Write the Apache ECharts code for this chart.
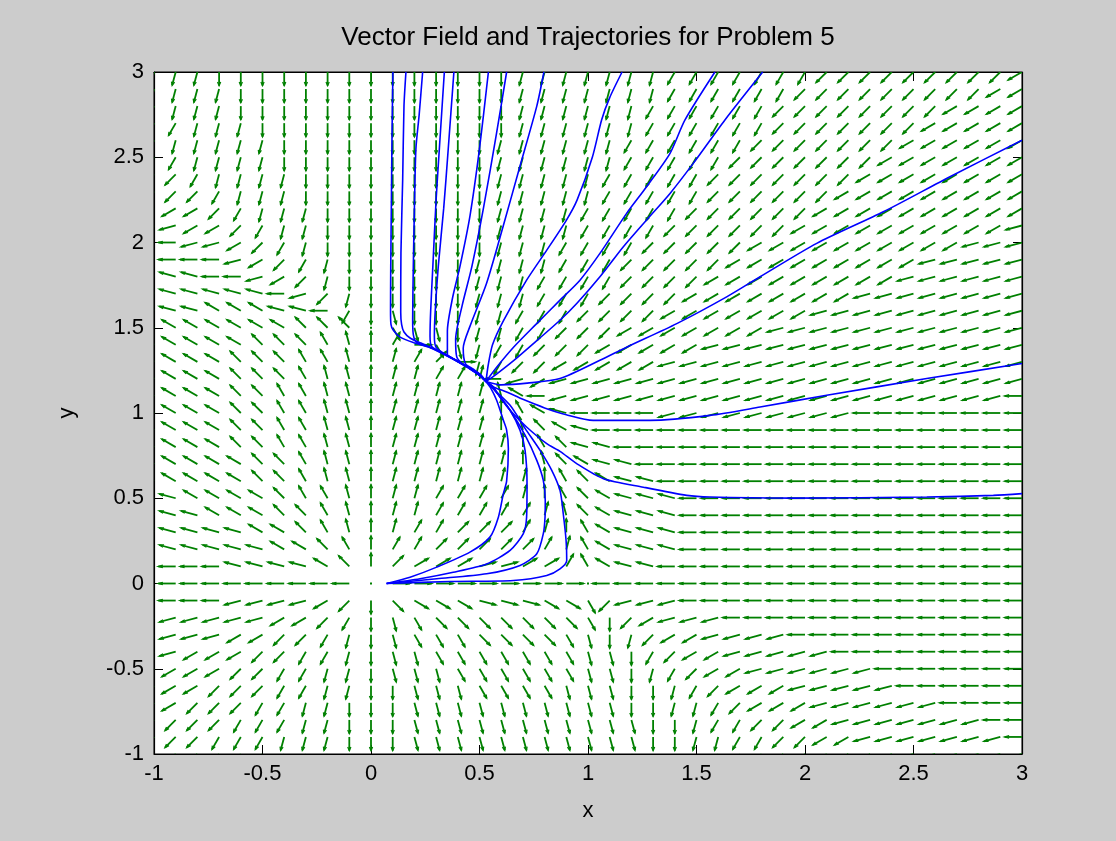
<!DOCTYPE html>
<html>
<head>
<meta charset="utf-8">
<script src="https://cdn.jsdelivr.net/npm/echarts@6/dist/echarts.min.js"></script>
<style>
html,body{margin:0;padding:0;background:#cccccc;}
#chart{width:1116px;height:841px;}
</style>
</head>
<body>
<div id="chart"></div>
<script>
// ---------------- data ----------------
const chartTitle = 'Vector Field and Trajectories for Problem 5';
const xTickValues = [-1, -0.5, 0, 0.5, 1, 1.5, 2, 2.5, 3];
const yTickValues = [-1, -0.5, 0, 0.5, 1, 1.5, 2, 2.5, 3];

// direction-field grid (tail positions of the arrows)
const fieldX = [-1.0,-0.9,-0.8,-0.7,-0.6,-0.5,-0.4,-0.3,-0.2,-0.1,0,0.1,0.2,0.3,0.4,0.5,0.6,0.7,0.8,0.9,1.0,
                1.1,1.2,1.3,1.4,1.5,1.6,1.7,1.8,1.9,2.0,2.1,2.2,2.3,2.4,2.5,2.6,2.7,2.8,2.9,3.0];
const fieldY = [3.0,2.9,2.8,2.7,2.6,2.5,2.4,2.3,2.2,2.1,2.0,1.9,1.8,1.7,1.6,1.5,1.4,1.3,1.2,1.1,1.0,
                0.9,0.8,0.7,0.6,0.5,0.4,0.3,0.2,0.1,0,-0.1,-0.2,-0.3,-0.4,-0.5,-0.6,-0.7,-0.8,-0.9,-1.0];
// arrow direction per grid cell, one run-length string per row (top row first).
// letter A..X = on-screen direction in 15 degree steps (A = right, G = up, M = left, S = down), '.' = zero vector
const fieldRowsRLE = [
 "R3S14R7Q7P9O1",
 "R4S13R7Q6P9O2",
 "Q1R3S13R6Q6P8O4",
 "Q2R3S12R6Q6P7O5",
 "Q1R5S10R6Q6P7O6",
 "P1Q1R4S10R6Q5P7O7",
 "O1P1Q1R4S9R5Q5P7O8",
 "O1P2Q1R3S9R5Q5P6O9",
 "N1O2P1Q1R3S8R4Q5P6O10",
 "N2O2P1Q1R2S8R4Q4P6O10N1",
 "M2N2O1P1Q1R1S8R3Q4P5O10N3",
 "M4N1O1P1Q1R1S6R4Q3P5O9N5",
 "L3M2N1O1P1R1S6R3Q4P4O9N6",
 "L6M1N1P1R1S5R3Q3P4O8N8",
 "L3K3L2M1Q1S1T1S3R2Q3P4O7N10",
 "K7J3.1U1T2S1R2Q2P3O7N12",
 "K5J3I1H1G1E1A1U1T1R1Q2P3O5N15",
 "K4J3I2H1G1F1E1D1A1R1Q1P2O5N17",
 "K4J3I1H2G1F2E2F1M1N1O1N22",
 "K4J2I2H2G1F5H1K1M1N21M1",
 "K4J2I2H2G1F5G1I1K1L1M4N9M8",
 "K4J2I2H2G1F5G1H1J1K1L1M20",
 "K4J2I2H2G1F6G1I1J1L2M19",
 "K5J2I1H2G1F6G1H1J1K1L2M18",
 "L1K4J2I1H2G1F7G1I1J1K1L2M17",
 "L2K4J1I2H1G1F2E4F1G1I1J1K1L3M16",
 "L3K3J2I1H1G1F2E5F1H1J1K1L3M16",
 "L5K2J1I1H1G1F1E2D3E1F1G1I1K1L3M16",
 "L6K2J1I1G1E2D5E1F1I1K1L3M16",
 "M4L4K1J1G1D1C3B2C2E1I1K1L2M17",
 "M10.1A9.1M20",
 "M4N4O1P1S1V1W3X3W2U1P1N3M16",
 "N6O2P1Q1S1T1U1V7U1S1P1O1N3M14",
 "N4O2P2Q1R1S1T1U3V4U1T1S1R1P1O2N4M11",
 "N2O3P2Q2R1S1T2U7T2S1Q1P1O2N5M9",
 "O4P2Q2R2S1T3U6T2S1R1Q1P1O2N6M7",
 "O3P3Q2R2S2T3U4T3S2R1Q1P1O3N5M6",
 "O2P3Q2R2S3T10S2R2Q1P1O3N6M4",
 "O1P3Q3R2S3T11S2R1Q2P2O2N7M2",
 "P3Q3R3S3T11S2R2Q2P2O2N7M1",
 "P3Q3R3S4T10S3R2Q1P3O3N6"
];

// trajectories [x, y]
const trajB1 = [[0.101,3.0],[0.097,2.65],[0.094,2.25],[0.091,1.86],[0.090,1.60],[0.092,1.52],[0.103,1.485],[0.134,1.445],[0.195,1.413],[0.272,1.383],[0.349,1.336],[0.400,1.300],[0.456,1.258],[0.500,1.220],[0.530,1.185]];
const trajB2 = [[0.161,3.0],[0.152,2.80],[0.146,2.37],[0.138,1.94],[0.137,1.59],[0.141,1.52],[0.152,1.475],[0.180,1.440],[0.230,1.410],[0.280,1.382],[0.349,1.337],[0.400,1.301],[0.456,1.259],[0.500,1.221],[0.530,1.185]];
const trajB3 = [[0.238,3.0],[0.222,2.75],[0.207,2.55],[0.200,2.20],[0.195,1.86],[0.192,1.55],[0.195,1.46],[0.210,1.415],[0.272,1.385],[0.349,1.338],[0.400,1.302],[0.456,1.260],[0.500,1.222],[0.530,1.185]];
const trajB4 = [[0.338,3.0],[0.315,2.55],[0.300,2.25],[0.285,1.86],[0.275,1.60],[0.272,1.45],[0.280,1.390],[0.349,1.339],[0.400,1.303],[0.456,1.261],[0.500,1.223],[0.530,1.185]];
const trajB5 = [[0.382,3.0],[0.356,2.55],[0.335,2.20],[0.310,1.86],[0.296,1.60],[0.292,1.45],[0.300,1.385],[0.349,1.340],[0.400,1.304],[0.456,1.262],[0.500,1.224],[0.530,1.185]];
const trajB6 = [[0.541,3.0],[0.500,2.55],[0.456,2.155],[0.410,1.86],[0.375,1.67],[0.352,1.48],[0.352,1.345],[0.400,1.305],[0.456,1.263],[0.500,1.225],[0.530,1.185]];
const trajB7 = [[0.625,3.0],[0.579,2.644],[0.518,2.20],[0.465,1.86],[0.420,1.63],[0.390,1.43],[0.395,1.33],[0.420,1.29],[0.456,1.264],[0.500,1.226],[0.530,1.185]];
const trajB8 = [[0.797,3.0],[0.764,2.80],[0.687,2.45],[0.610,2.10],[0.533,1.763],[0.456,1.508],[0.425,1.38],[0.435,1.29],[0.470,1.258],[0.505,1.225],[0.530,1.185]];
const trajC1 = [[1.157,3.0],[1.100,2.85],[1.063,2.72],[1.020,2.50],[0.950,2.25],[0.900,2.13],[0.810,1.955],[0.717,1.779],[0.610,1.54],[0.560,1.40],[0.540,1.28],[0.530,1.185]];
const trajC2 = [[1.585,3.0],[1.447,2.719],[1.378,2.523],[1.270,2.327],[1.178,2.171],[1.055,1.936],[0.963,1.779],[0.871,1.662],[0.760,1.52],[0.660,1.39],[0.580,1.27],[0.530,1.185]];
const trajC3 = [[1.805,3.0],[1.631,2.719],[1.485,2.464],[1.378,2.288],[1.270,2.132],[1.163,1.975],[1.055,1.799],[0.948,1.642],[0.871,1.544],[0.760,1.42],[0.660,1.31],[0.580,1.23],[0.530,1.185]];
const trajD1 = [[3.0,2.60],[2.668,2.386],[2.361,2.180],[2.054,1.995],[1.793,1.799],[1.639,1.681],[1.409,1.524],[1.178,1.386],[1.055,1.309],[0.871,1.202],[0.720,1.175],[0.600,1.165],[0.530,1.185]];
const trajD2 = [[3.0,1.290],[2.561,1.202],[2.100,1.104],[1.793,1.035],[1.562,0.986],[1.286,0.957],[1.024,0.957],[0.900,0.990],[0.800,1.030],[0.700,1.080],[0.625,1.123],[0.564,1.153],[0.530,1.185]];
const trajD3 = [[3.0,0.527],[2.868,0.517],[2.561,0.507],[1.946,0.501],[1.562,0.507],[1.455,0.517],[1.255,0.565],[1.071,0.615],[0.948,0.703],[0.871,0.775],[0.810,0.820],[0.717,0.918],[0.641,1.016],[0.594,1.094],[0.564,1.153],[0.530,1.185]];
const trajE1 = [[0.072,0.0],[0.180,0.037],[0.303,0.096],[0.456,0.184],[0.548,0.272],[0.587,0.389],[0.610,0.527],[0.625,0.600],[0.633,0.790],[0.625,0.900],[0.610,0.957],[0.579,1.075],[0.550,1.150],[0.530,1.185]];
const trajE2 = [[0.072,0.0],[0.226,0.028],[0.379,0.066],[0.533,0.115],[0.641,0.194],[0.702,0.292],[0.717,0.389],[0.719,0.585],[0.710,0.781],[0.687,0.898],[0.641,1.016],[0.594,1.094],[0.560,1.150],[0.530,1.185]];
const trajE3 = [[0.072,0.0],[0.303,0.028],[0.533,0.057],[0.687,0.106],[0.764,0.174],[0.794,0.292],[0.802,0.389],[0.803,0.487],[0.794,0.605],[0.764,0.722],[0.710,0.870],[0.641,1.016],[0.571,1.133],[0.530,1.185]];
const trajE4 = [[0.072,0.0],[0.364,0.012],[0.656,0.018],[0.810,0.047],[0.871,0.086],[0.902,0.135],[0.899,0.252],[0.886,0.409],[0.871,0.546],[0.833,0.664],[0.779,0.781],[0.710,0.910],[0.641,1.045],[0.571,1.133],[0.530,1.185]];

const trajectories = [trajB1,trajB2,trajB3,trajB4,trajB5,trajB6,trajB7,trajB8,trajC1,trajC2,trajC3,trajD1,trajD2,trajD3,trajE1,trajE2,trajE3,trajE4];

// ---------------- build the chart ----------------
const arrowData = [];
fieldRowsRLE.forEach(function (row, r) {
  const codes = [];
  row.replace(/([A-X.])(\d+)/g, function (m, c, n) {
    for (let i = 0; i < +n; i++) codes.push(c);
    return m;
  });
  codes.forEach(function (c, i) {
    if (i < fieldX.length) arrowData.push([fieldX[i], fieldY[r], c === '.' ? -1 : c.charCodeAt(0) - 65]);
  });
});

const ARROW_LEN = 0.08, HEAD_A = 0.26, HEAD_B = 0.35, GREEN = '#008000';
const FONT = 'Liberation Sans, Arial, sans-serif';

function renderArrow(params, api) {
  const x = api.value(0), y = api.value(1), k = api.value(2);
  const p0 = api.coord([x, y]);
  if (k < 0) {
    return {type: 'rect', shape: {x: p0[0] - 1, y: p0[1] - 1, width: 2, height: 2}, style: {fill: GREEN}};
  }
  const s = api.size([1, 1]);
  const th = k * 15 * Math.PI / 180;
  let ux = Math.cos(th) / s[0], uy = Math.sin(th) / s[1];
  const n = Math.hypot(ux, uy); ux /= n; uy /= n;
  const u = ARROW_LEN * ux, v = ARROW_LEN * uy;
  const tip = api.coord([x + u, y + v]);
  const h1 = api.coord([x + u - HEAD_A * (u + HEAD_B * v), y + v - HEAD_A * (v - HEAD_B * u)]);
  const h2 = api.coord([x + u - HEAD_A * (u - HEAD_B * v), y + v - HEAD_A * (v + HEAD_B * u)]);
  const st = {stroke: GREEN, lineWidth: 1.8, fill: null};
  return {type: 'group', children: [
    {type: 'line', shape: {x1: p0[0], y1: p0[1], x2: tip[0], y2: tip[1]}, style: st},
    {type: 'polyline', shape: {points: [h1, tip, h2]}, style: {stroke: GREEN, lineWidth: 1.3, fill: null}}
  ]};
}

const axisCommon = {
  type: 'value', min: -1, max: 3, interval: 0.5,
  axisLine: {show: true, onZero: false, lineStyle: {color: '#000', width: 1.2}},
  splitLine: {show: false}
};

const series = [{
  type: 'custom', coordinateSystem: 'cartesian2d', clip: true, silent: true,
  renderItem: renderArrow, data: arrowData, z: 2
}];
trajectories.forEach(function (t) {
  series.push({
    type: 'line', data: t, showSymbol: false, smooth: 0.25, clip: true, silent: true,
    lineStyle: {color: '#0000ff', width: 1.6}, z: 3
  });
});

const chart = echarts.init(document.getElementById('chart'), null, {renderer: 'canvas'});
chart.setOption({
  animation: false,
  backgroundColor: '#cccccc',
  grid: {left: 154, right: 94, top: 72, bottom: 87, show: true, backgroundColor: '#ffffff', borderColor: '#000', borderWidth: 1},
  graphic: [{
    type: 'text', x: 588, y: 38,
    style: {text: chartTitle, fill: '#000', font: '26px ' + FONT, textAlign: 'center', textVerticalAlign: 'middle'}
  }],
  xAxis: [
    Object.assign({}, axisCommon, {
      position: 'bottom',
      axisTick: {show: true, inside: true, length: 9, lineStyle: {color: '#000'}, customValues: xTickValues},
      axisLabel: {color: '#000', fontSize: 22, fontFamily: FONT, margin: 9, customValues: xTickValues},
      name: 'x', nameLocation: 'middle', nameGap: 46,
      nameTextStyle: {color: '#000', fontSize: 22, fontFamily: FONT}
    }),
    Object.assign({}, axisCommon, {
      position: 'top',
      axisTick: {show: true, inside: true, length: 9, lineStyle: {color: '#000'}, customValues: xTickValues},
      axisLabel: {show: false}
    })
  ],
  yAxis: [
    Object.assign({}, axisCommon, {
      position: 'left',
      axisTick: {show: true, inside: true, length: 9, lineStyle: {color: '#000'}, customValues: yTickValues},
      axisLabel: {color: '#000', fontSize: 22, fontFamily: FONT, margin: 10, customValues: yTickValues},
      name: 'y', nameLocation: 'middle', nameGap: 76,
      nameTextStyle: {color: '#000', fontSize: 22, fontFamily: FONT}
    }),
    Object.assign({}, axisCommon, {
      position: 'right',
      axisTick: {show: true, inside: true, length: 9, lineStyle: {color: '#000'}, customValues: yTickValues},
      axisLabel: {show: false}
    })
  ],
  series: series
});
</script>
</body>
</html>
